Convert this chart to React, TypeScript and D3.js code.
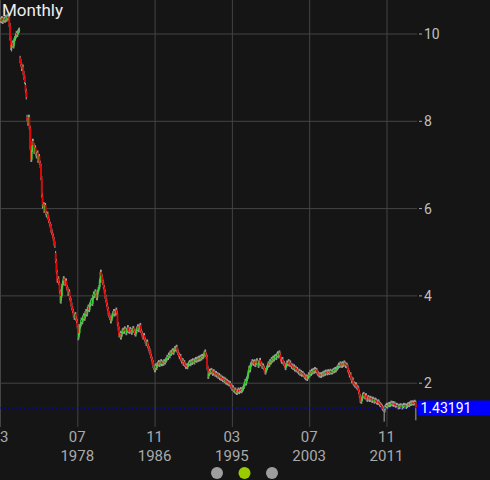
import * as d3 from "d3";
import React from "react";

// monthly closes, first bar = 03/1970, last bar = latest price
const CLOSES = [
  10.33, 10.3, 10.36, 10.28, 10.32, 10.35, 10.31, 10.38, 10.33, 10.4, 10.36, 10.38,
  10.2, 9.9,
  9.68, 9.75, 9.8, 9.72, 9.85,
  9.9, 9.95, 10.02, 9.98, 10.05, 10.08, 10.1,
  9.38, 9.3, 9.2,
  9.25, 9.1, 9.0, 8.9,
  8.7, 8.55,
  8.05, 7.95, 8.1, 7.85,
  7.4, 7.12,
  7.35, 7.55, 7.45, 7.3, 7.4,
  7.25, 7.2,
  7.28, 7.1, 7.2, 7.05, 6.98,
  6.7, 6.3, 6.05,
  6.1, 5.95, 6.08, 5.9, 5.85, 5.88,
  5.8, 5.72, 5.65, 5.6, 5.5, 5.45,
  5.38, 5.3, 5.2, 5.15,
  4.8, 4.55, 4.35,
  4.4, 4.3, 4.1,
  3.88, 4.0, 4.22,
  4.3, 4.4, 4.35, 4.28, 4.35, 4.2, 4.15,
  4.05, 4.1, 3.95, 3.9, 3.8, 3.72, 3.65,
  3.55, 3.5, 3.58, 3.48, 3.42, 3.3,
  3.05, 3.15, 3.3,
  3.35, 3.45, 3.4, 3.5, 3.55, 3.48, 3.6, 3.65, 3.58, 3.7, 3.75, 3.68, 3.8, 3.85, 3.9, 3.82, 3.97,
  4.05, 4.0, 4.1, 4.05, 3.95, 4.08, 4.15, 4.2, 4.35,
  4.55, 4.45, 4.35,
  4.3, 4.2, 4.1, 3.98, 3.9, 3.8,
  3.7, 3.6, 3.55, 3.5, 3.42, 3.48, 3.55,
  3.6, 3.65, 3.58, 3.62, 3.68, 3.6,
  3.35, 3.25, 3.1, 3.15, 3.05, 3.12, 3.2,
  3.22, 3.18, 3.25, 3.2, 3.15, 3.22, 3.28, 3.2, 3.18, 3.24, 3.2, 3.16, 3.22, 3.26, 3.2, 3.15, 3.12, 3.2, 3.25,
  3.3, 3.22, 3.28, 3.33,
  3.2, 3.15, 3.1, 3.05, 3.1, 3.0, 2.95, 2.9, 2.95, 2.85, 2.8, 2.75, 2.7, 2.62, 2.55, 2.48, 2.4,
  2.35, 2.3, 2.4, 2.35, 2.42,
  2.45, 2.48, 2.42, 2.46, 2.5, 2.44, 2.47, 2.45, 2.5, 2.48, 2.52, 2.55, 2.6,
  2.58, 2.65, 2.62, 2.7, 2.68, 2.72, 2.75, 2.7, 2.76, 2.8, 2.78, 2.83, 2.75,
  2.7, 2.65, 2.6, 2.62, 2.55, 2.5, 2.52, 2.45, 2.48, 2.42, 2.38, 2.4, 2.37,
  2.42, 2.45, 2.48, 2.44, 2.5, 2.47, 2.52, 2.5, 2.48, 2.53, 2.55, 2.52, 2.56, 2.54, 2.58, 2.55, 2.6, 2.57, 2.62, 2.6, 2.63,
  2.68, 2.72, 2.65,
  2.6, 2.35, 2.15,
  2.22, 2.28, 2.25, 2.3, 2.26, 2.22, 2.27, 2.24, 2.2, 2.23, 2.18, 2.2,
  2.15, 2.18, 2.12, 2.15, 2.1, 2.12, 2.08, 2.1, 2.05, 2.08, 2.02, 2.05, 2.0, 2.02, 1.98, 2.0, 1.95,
  1.92, 1.88, 1.9, 1.85, 1.82, 1.85, 1.8, 1.78, 1.82,
  1.85, 1.8, 1.83, 1.86, 1.82, 1.85, 1.88,
  1.92, 1.98, 2.05, 2.0, 2.1, 2.15,
  2.25, 2.35, 2.3, 2.42, 2.45, 2.5, 2.48,
  2.45, 2.5, 2.42, 2.47, 2.52, 2.45, 2.4, 2.48, 2.53, 2.45, 2.42, 2.38, 2.4,
  2.35, 2.3, 2.25, 2.3,
  2.35, 2.4, 2.45, 2.42, 2.5, 2.48, 2.55, 2.52, 2.58, 2.55, 2.6, 2.62, 2.58, 2.65, 2.68, 2.62, 2.7, 2.65,
  2.55, 2.5, 2.55, 2.48, 2.45, 2.4, 2.35,
  2.42, 2.47, 2.45, 2.5, 2.43, 2.47, 2.42, 2.38, 2.4,
  2.35, 2.38, 2.32, 2.35, 2.3, 2.32, 2.28,
  2.25, 2.28, 2.22, 2.25, 2.2, 2.23, 2.2,
  2.18, 2.15, 2.12, 2.15, 2.1, 2.14,
  2.2, 2.18, 2.25, 2.22, 2.28, 2.25, 2.3, 2.27, 2.32, 2.28,
  2.3, 2.25, 2.22, 2.2, 2.18,
  2.2, 2.17, 2.2, 2.22, 2.2,
  2.24, 2.22, 2.26, 2.25, 2.23, 2.27, 2.25, 2.24, 2.28, 2.26, 2.25, 2.27, 2.3, 2.28, 2.32, 2.3, 2.33, 2.35,
  2.38, 2.42, 2.4, 2.45, 2.43, 2.4, 2.45, 2.42, 2.47, 2.44, 2.4, 2.42, 2.38,
  2.3, 2.25, 2.18, 2.2, 2.12, 2.05, 2.08, 2.0,
  1.98, 1.95, 1.97, 1.92, 1.9, 1.88,
  1.8, 1.7, 1.6, 1.58, 1.65,
  1.72, 1.75, 1.7, 1.68, 1.72, 1.65, 1.62,
  1.68, 1.65, 1.62, 1.66, 1.63, 1.6, 1.64, 1.61, 1.58, 1.62, 1.6, 1.57, 1.55, 1.58, 1.55, 1.52, 1.5,
  1.48, 1.45, 1.42, 1.4, 1.38, 1.45,
  1.48, 1.5, 1.47, 1.5, 1.52, 1.5, 1.53,
  1.55, 1.52, 1.54, 1.51, 1.53, 1.5, 1.48, 1.5, 1.47,
  1.45, 1.48, 1.46, 1.49, 1.47, 1.45, 1.48, 1.5, 1.47, 1.49, 1.46, 1.48, 1.5, 1.52, 1.5, 1.53,
  1.55, 1.53, 1.56, 1.55, 1.54, 1.57, 1.55,
  1.43191,
];

// bars whose open gapped away from the previous close
const OPEN_GAPS: [number, number][] = [
  [26, 9.45],
  [33, 8.83],
  [35, 8.1],
  [72, 4.98],
];

// long wicks
const LOW_WICKS: [number, number][] = [
  [15, 9.6],
  [79, 3.82],
  [101, 2.98],
  [497, 1.12],
  [538, 1.15],
];
const HIGH_WICKS: [number, number][] = [[130, 4.6]];

const Y_TICKS = [2, 4, 6, 8, 10];
const X_TICK_INDEX = [0, 100, 200, 300, 400, 500];
const X_TICK_MONTHS = ["03", "07", "11", "03", "07", "11"];
const X_TICK_YEARS = ["", "1978", "1986", "1995", "2003", "2011"];
const LAST_PRICE = "1.43191";

const W = 490;
const H = 480;
const PLOT_R = 418;

export default function App() {
  const x = d3.scaleLinear().domain([0, 540]).range([0, 417.4]);
  const y = d3.scaleLinear().domain([2, 10]).range([383.2, 34]);

  const gaps = new Map(OPEN_GAPS);
  const lows = new Map(LOW_WICKS);
  const highs = new Map(HIGH_WICKS);

  const candles = CLOSES.map((c, i) => {
    const o = gaps.get(i) ?? (i === 0 ? c : CLOSES[i - 1]);
    const hi = highs.get(i) ?? Math.max(o, c) + 0.05;
    const lo = lows.get(i) ?? Math.min(o, c) - 0.05;
    return { i, o, c, hi, lo };
  });

  const font = "Roboto, 'Noto Sans', sans-serif";
  const lastY = y(CLOSES[CLOSES.length - 1]);

  return (
    <svg
      width={W}
      height={H}
      style={{ position: "absolute", left: 0, top: 0, display: "block" }}
      fontFamily={font}
    >
      <rect width={W} height={H} fill="#151515" />

      {/* grid */}
      {Y_TICKS.map((t) => (
        <g key={"y" + t}>
          <line x1={0} x2={417} y1={y(t)} y2={y(t)} stroke="#444" strokeWidth={1} />
          <line x1={419} x2={422} y1={y(t)} y2={y(t)} stroke="#aaa" strokeWidth={1} />
          <text x={424} y={y(t)} dy="0.35em" fill="#c0c0c0" fontSize={14}>
            {t}
          </text>
        </g>
      ))}
      {X_TICK_INDEX.map((t, k) => (
        <g key={"x" + t}>
          <line x1={x(t) + 0.5} x2={x(t) + 0.5} y1={0} y2={427} stroke="#444" strokeWidth={1} />
          <text x={x(t)} y={437} dy="0.35em" textAnchor="middle" fill="#aaa" fontSize={15}>
            {X_TICK_MONTHS[k]}
          </text>
          <text x={x(t)} y={456} dy="0.35em" textAnchor="middle" fill="#aaa" fontSize={15}>
            {X_TICK_YEARS[k]}
          </text>
        </g>
      ))}

      {/* candles */}
      <g>
        {candles.map((d) => (
          <line
            key={"w" + d.i}
            x1={x(d.i)}
            x2={x(d.i)}
            y1={y(d.hi)}
            y2={y(d.lo)}
            stroke="#a8a8a8"
            strokeWidth={1}
          />
        ))}
        {candles.map((d) => {
          const top = y(Math.max(d.o, d.c));
          const h = Math.max(1, y(Math.min(d.o, d.c)) - top);
          return (
            <rect
              key={"b" + d.i}
              x={x(d.i) - 0.9}
              y={top}
              width={1.8}
              height={h}
              fill={d.c >= d.o ? "#2fd62f" : "#e80000"}
            />
          );
        })}
      </g>

      {/* last price */}
      <line x1={0} x2={PLOT_R} y1={lastY} y2={lastY} stroke="#0000ee" strokeWidth={1} strokeDasharray="2,2" />
      <rect x={PLOT_R} y={lastY - 7.5} width={W - PLOT_R} height={15} fill="#0000ff" />
      <text x={420.5} y={lastY} dy="0.36em" fill="#fff" fontSize={14}>
        {LAST_PRICE}
      </text>

      <text x={2} y={16} fill="#eeeeee" fontSize={17}>
        Monthly
      </text>

      {/* page dots */}
      <circle cx={217} cy={473} r={6} fill="#9e9e9e" />
      <circle cx={244.5} cy={473} r={6} fill="#99cc00" />
      <circle cx={272} cy={473} r={6} fill="#9e9e9e" />
    </svg>
  );
}
